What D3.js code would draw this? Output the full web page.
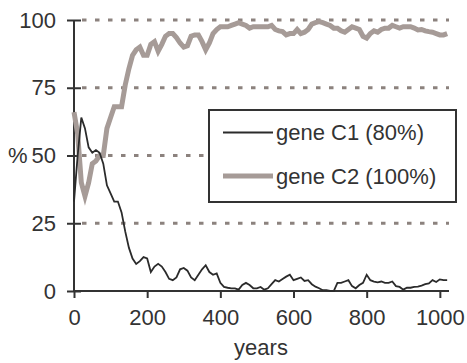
<!DOCTYPE html>
<html>
<head>
<meta charset="UTF-8">
<script src="https://d3js.org/d3.v7.min.js"></script>
<style>
  body { margin: 0; background: #fff; overflow: hidden; }
  svg { display: block; }
  text { font-family: "Liberation Sans", Arial, sans-serif; fill: #333; }
</style>
</head>
<body>
<svg id="chart" width="467" height="363"></svg>
<script>
// years sampled every 10 from 0 to 1020
const years = d3.range(0, 1021, 10);

const geneC1 = [
  33, 50, 64, 60, 53, 51, 52, 51, 47, 39,
  36, 33, 33, 29, 22, 16, 12, 10, 11, 12.5,
  12, 7, 9, 10, 9, 7, 4.5, 4, 5, 8,
  8.5, 7.5, 5, 4, 6, 8, 9.5, 7, 6, 6.5,
  3, 1.5, 1.2, 1, 1, 0.5, 2.2, 3, 2.2, 1,
  1, 1.5, 0.5, 1, 2.5, 4, 3.5, 4.4, 5.3, 6,
  4, 4.5, 5, 3.7, 4, 2.5, 1.6, 1, 0.3, 0.3,
  0, 0, 3, 3, 3.5, 4, 1.8, 1, 2.2, 3,
  6, 4, 3.5, 3.2, 3.5, 3, 3, 3.5, 1.8, 1.5,
  0.5, 1.2, 1.2, 1.5, 1.6, 2, 2.5, 2.8, 4, 3.3,
  4.3, 4, 4
];

const geneC2 = [
  66, 58, 40, 35, 40, 47, 48, 50, 50, 60,
  64, 68, 68, 68, 76, 82, 87, 89, 90, 87,
  87, 91, 92, 88.5, 91, 94, 95, 95, 93.5, 91.5,
  90, 90.5, 94, 94.5, 94.5, 92, 89, 91.5, 95, 96.5,
  97.5, 97.5, 97.5, 98, 98.5, 99, 98.5, 98, 97, 97.5,
  97.5, 97.5, 97.5, 97.5, 98, 96.5, 96, 95.7, 94.5, 95,
  95, 96.5, 95, 95.5, 96.5, 98.5, 99, 99.4, 99, 98.5,
  98, 97, 97, 96, 95.5, 96.5, 97.5, 97, 96.5, 94,
  93.3, 95, 96, 95.5, 96.5, 97, 97, 98, 97.5, 97,
  97.5, 97.5, 97.5, 97, 96.3, 96.5, 96, 95.7, 95.5, 95,
  94.5, 94.5, 95
];

const yTicks = [0, 25, 50, 75, 100];
const xTicks = [0, 200, 400, 600, 800, 1000];
const legendLabels = ["gene C1 (80%)", "gene C2 (100%)"];

const svg = d3.select("#chart");
const axisColor = "#333";
const gridColor = "#8c827e";
const c2Color = "#a69b97";
const font = "Liberation Sans, Arial, sans-serif";

const x = d3.scaleLinear().domain([0, 1025]).range([74, 449]);
const y = d3.scaleLinear().domain([0, 100]).range([291, 20]);

// dashed gridlines
svg.append("g")
  .selectAll("line")
  .data(yTicks.filter(d => d > 0))
  .join("line")
  .attr("x1", 82).attr("x2", 449)
  .attr("y1", d => y(d)).attr("y2", d => y(d))
  .attr("stroke", gridColor)
  .attr("stroke-width", 3)
  .attr("stroke-dasharray", "4.5,8.5");

// y axis
const yAxis = svg.append("g").attr("transform", "translate(74,0)")
  .call(d3.axisLeft(y).tickValues(yTicks).tickSize(7).tickPadding(11)
    .tickFormat(d3.format("d")));
yAxis.select(".domain").attr("stroke", axisColor).attr("stroke-width", 2).attr("d", `M0,${y(100)}V${y(0)}`);
yAxis.selectAll(".tick line").attr("stroke", axisColor).attr("stroke-width", 2).attr("x1", 7);
yAxis.selectAll(".tick text").attr("font-size", 22).attr("font-family", font).attr("fill", "#333");

// x axis
const xAxis = svg.append("g").attr("transform", `translate(0,${y(0)})`)
  .call(d3.axisBottom(x).tickValues(xTicks).tickSize(7).tickPadding(11)
    .tickFormat(d3.format("d")));
xAxis.select(".domain").attr("stroke", axisColor).attr("stroke-width", 2).attr("d", `M${x(0)},0H449`);
xAxis.selectAll(".tick line").attr("stroke", axisColor).attr("stroke-width", 2);
xAxis.selectAll(".tick text").attr("font-size", 22).attr("font-family", font).attr("fill", "#333");

// axis titles
svg.append("text").attr("x", 8).attr("y", y(50)).attr("dy", "0.35em")
  .attr("font-size", 22).text("%");
svg.append("text").attr("x", 261).attr("y", 355).attr("text-anchor", "middle")
  .attr("font-size", 22).text("years");

const line = d3.line().x((d, i) => x(years[i])).y(d => y(d));

svg.append("path").datum(geneC2)
  .attr("fill", "none").attr("stroke", c2Color).attr("stroke-width", 5)
  .attr("d", line);

svg.append("path").datum(geneC1)
  .attr("fill", "none").attr("stroke", "#2b2b2b").attr("stroke-width", 1.8)
  .attr("d", line);

// legend
const legend = svg.append("g");
legend.append("rect")
  .attr("x", 209).attr("y", 110).attr("width", 247).attr("height", 92)
  .attr("fill", "#fff").attr("stroke", axisColor).attr("stroke-width", 2);

const legendStyles = [
  { color: "#2b2b2b", width: 1.8 },
  { color: c2Color, width: 5 }
];
legendLabels.forEach((label, i) => {
  const ly = 132.5 + i * 43.5;
  legend.append("line")
    .attr("x1", 223).attr("x2", 273).attr("y1", ly).attr("y2", ly)
    .attr("stroke", legendStyles[i].color).attr("stroke-width", legendStyles[i].width);
  legend.append("text")
    .attr("x", 276).attr("y", ly).attr("dy", "0.35em")
    .attr("font-size", 22).text(label);
});
</script>
</body>
</html>
